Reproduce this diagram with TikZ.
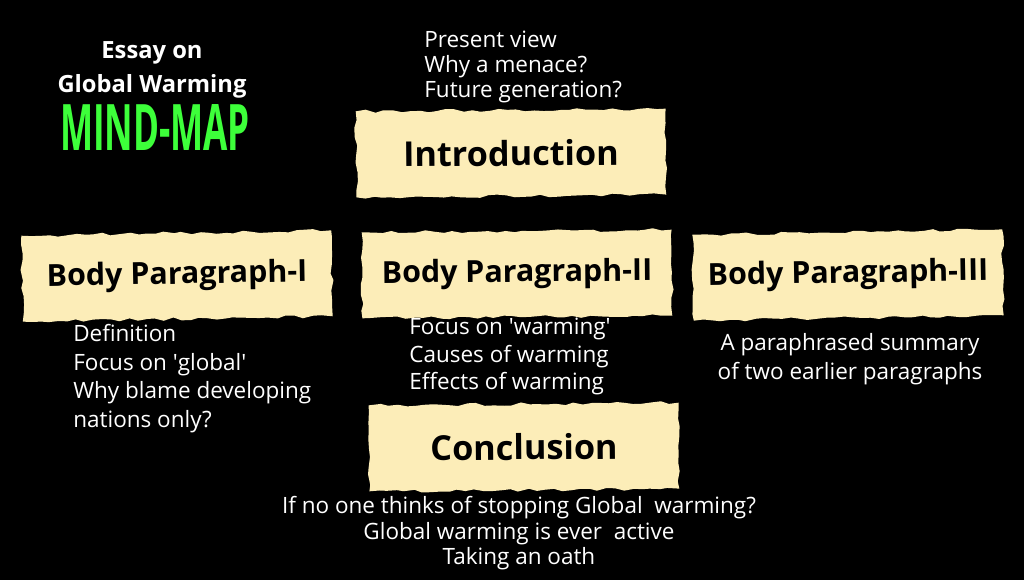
\documentclass[tikz,border=0pt]{standalone}
\usepackage{fontspec}
\setmainfont{Open Sans}
\usepackage{graphicx}
\usetikzlibrary{decorations.pathmorphing}
\definecolor{paper}{HTML}{FCEDB8}
\definecolor{neon}{HTML}{3DFF3A}
\tikzset{
  paper/.style={fill=paper, minimum width=6.2cm, minimum height=1.72cm,
    decorate, decoration={random steps, segment length=5pt, amplitude=0.9pt},
    font=\fontsize{17.3}{20}\selectfont\bfseries},
  bigpaper/.style={paper, font=\fontsize{19.5}{22}\selectfont\bfseries},
  note/.style={text=white, inner sep=0pt, font=\fontsize{12.8}{15.6}\selectfont},
}
\newcommand{\q}{\textquotesingle}
\begin{document}
\begin{tikzpicture}[x=0.02cm, y=-0.02cm]
\pgfmathsetseed{7}
\fill[black] (0,0) rectangle (1024,580);
\useasboundingbox (0,0) rectangle (1024,580);

% title
\node[text=white, align=center, font=\fontsize{13.5}{19.3}\selectfont\bfseries] (title) at (152,70) {Essay on\\Global Warming};
\node[text=neon] (mindmap) at (155,128) {\resizebox{3.8cm}{0.92cm}{\bfseries MIND-MAP}};

% boxes
\node[bigpaper, rotate=0.5] (intro) at (511,153) {Introduction};
\node[paper, rotate=1] (bodyI) at (177,276) {Body Paragraph-I};
\node[paper, rotate=0.5] (bodyII) at (517,274) {Body Paragraph-II};
\node[paper, rotate=1] (bodyIII) at (848,275) {Body Paragraph-III};
\node[bigpaper, rotate=0.5] (concl) at (524,447) {Conclusion};

% notes
\node[note, anchor=north west, align=left, font=\fontsize{12.8}{14.2}\selectfont] (introlist) at (424,31) {Present view\\Why a menace?\\Future generation?};
\node[note, anchor=north west, align=left, font=\fontsize{12.8}{16.3}\selectfont] (bodyIlist) at (73,324) {Definition\\Focus on \q global\q\\Why blame developing\\nations only?};
\node[note, anchor=north west, align=left] (bodyIIlist) at (409,318) {Focus on \q warming\q\\Causes of warming\\Effects of warming};
\node[note, anchor=north, align=center, font=\fontsize{12.8}{16.4}\selectfont] (bodyIIIlist) at (850,333) {A paraphrased summary\\of two earlier paragraphs};
\node[note, anchor=north, align=center, font=\fontsize{12.8}{14.5}\selectfont] (concllist) at (519,496) {If no one thinks of stopping Global\ \ warming?\\Global warming is ever\ \ active\\Taking an oath};
\end{tikzpicture}
\end{document}
